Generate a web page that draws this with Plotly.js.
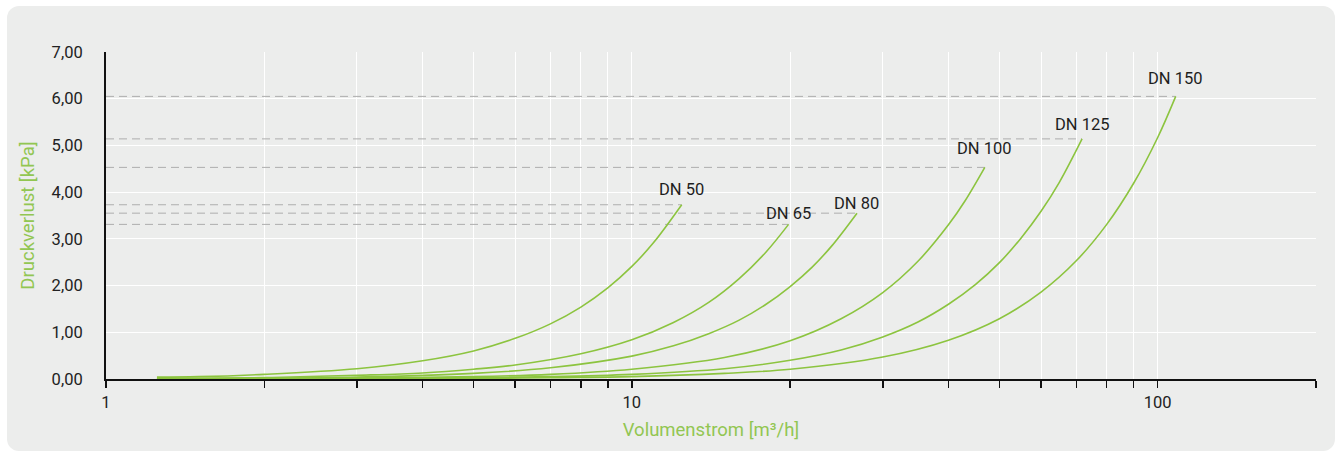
<!DOCTYPE html>
<html>
<head>
<meta charset="utf-8">
<script src="https://cdn.plot.ly/plotly-3.0.1.min.js"></script>
<style>
html,body{margin:0;padding:0;background:#ffffff;}
#panel{position:absolute;left:7px;top:6px;width:1328px;height:445px;background:#ecedec;border-radius:12px;}
#chart{position:absolute;left:0;top:0;width:1338px;height:452px;}
</style>
</head>
<body>
<div id="panel"></div>
<div id="chart"></div>
<script>
// ---- data ----
const seriesNames = ['DN 50', 'DN 65', 'DN 80', 'DN 100', 'DN 125', 'DN 150'];

const qDN50  = [1.25, 1.5, 2, 3, 4, 5, 6, 7, 8, 9, 10, 11, 12.44];
const dpDN50 = [0.04, 0.05, 0.10, 0.22, 0.39, 0.60, 0.87, 1.18, 1.54, 1.95, 2.41, 2.92, 3.73];

const qDN65  = [1.25, 2, 3, 4, 5, 6, 8, 10, 12, 14, 16, 18, 19.86];
const dpDN65 = [0.01, 0.03, 0.08, 0.13, 0.21, 0.30, 0.54, 0.84, 1.21, 1.64, 2.15, 2.72, 3.31];

const qDN80  = [1.25, 2, 3, 5, 7, 10, 12, 14, 16, 18, 20, 22, 24, 26.8];
const dpDN80 = [0.01, 0.02, 0.04, 0.12, 0.24, 0.49, 0.71, 0.97, 1.26, 1.60, 1.98, 2.39, 2.85, 3.55];

const qDN100  = [1.25, 2, 3, 5, 7, 10, 15, 20, 25, 30, 35, 40, 43, 46.9];
const dpDN100 = [0.00, 0.01, 0.02, 0.05, 0.10, 0.21, 0.46, 0.82, 1.29, 1.85, 2.52, 3.30, 3.81, 4.53];

const qDN125  = [1.25, 2, 3, 5, 7, 10, 15, 20, 25, 30, 35, 40, 45, 50, 55, 60, 65, 71.8];
const dpDN125 = [0.00, 0.00, 0.01, 0.03, 0.05, 0.10, 0.22, 0.40, 0.62, 0.90, 1.22, 1.60, 2.02, 2.49, 3.02, 3.59, 4.21, 5.14];

const qDN150  = [1.25, 2, 3, 5, 7, 10, 15, 20, 30, 40, 50, 60, 70, 80, 90, 100, 108.2];
const dpDN150 = [0.00, 0.00, 0.01, 0.01, 0.03, 0.05, 0.12, 0.21, 0.47, 0.83, 1.29, 1.86, 2.53, 3.31, 4.19, 5.17, 6.05];

const xTickVals = [1, 2, 3, 4, 5, 6, 7, 8, 9, 10, 20, 30, 40, 50, 60, 70, 80, 90, 100, 200];
const xTickText = ['1', '', '', '', '', '', '', '', '', '10', '', '', '', '', '', '', '', '', '100', ''];
const yTickVals = [0, 1, 2, 3, 4, 5, 6, 7];

// ---- styling (not data) ----
const lineGreen = '#8cc43f';
const titleGreen = '#92c652';
const labelShift = [4, -1, -2, 7, 3, 6];

const qs = [qDN50, qDN65, qDN80, qDN100, qDN125, qDN150];
const dps = [dpDN50, dpDN65, dpDN80, dpDN100, dpDN125, dpDN150];

const traces = [];
const annotations = [];
seriesNames.forEach((name, i) => {
  const q = qs[i], dp = dps[i];
  const qEnd = q[q.length - 1], dpEnd = dp[dp.length - 1];
  traces.push({
    x: [xTickVals[0], qEnd], y: [dpEnd, dpEnd],
    mode: 'lines', type: 'scatter', hoverinfo: 'skip', showlegend: false,
    line: {color: '#aeaeae', width: 1, dash: '8px,5px'}
  });
});
seriesNames.forEach((name, i) => {
  const q = qs[i], dp = dps[i];
  const qEnd = q[q.length - 1], dpEnd = dp[dp.length - 1];
  traces.push({
    x: q, y: dp, name: name,
    mode: 'lines', type: 'scatter', showlegend: false,
    line: {color: lineGreen, width: 1.6, shape: 'spline', smoothing: 1}
  });
  annotations.push({
    x: Math.log10(qEnd), y: dpEnd, xref: 'x', yref: 'y',
    text: name, showarrow: false, xanchor: 'center', yanchor: 'bottom',
    yshift: labelShift[i],
    font: {family: 'Roboto, sans-serif', size: 16.5, color: '#1e1e1e'}
  });
});

const layout = {
  width: 1338, height: 452,
  margin: {l: 106, r: 22, t: 52, b: 73},
  paper_bgcolor: 'rgba(0,0,0,0)',
  plot_bgcolor: 'rgba(0,0,0,0)',
  separators: ', ',
  font: {family: 'Roboto, sans-serif', size: 16, color: '#222222'},
  showlegend: false,
  xaxis: {
    type: 'log',
    range: [0, Math.log10(200)],
    tickvals: xTickVals, ticktext: xTickText,
    ticks: 'outside', ticklen: 7, tickwidth: 1.5, tickcolor: '#111111',
    showline: true, linecolor: '#111111', linewidth: 2,
    showgrid: true, gridcolor: '#ffffff', gridwidth: 1,
    zeroline: false,
    tickfont: {family: 'Roboto, sans-serif', size: 16.5, color: '#222222'},
    title: {text: 'Volumenstrom [m³/h]', standoff: 12,
            font: {family: 'Roboto, sans-serif', size: 18.5, color: titleGreen}}
  },
  yaxis: {
    range: [0, 7],
    tickvals: yTickVals, tickformat: '.2f',
    ticks: 'outside', ticklen: 18, tickcolor: 'rgba(0,0,0,0)',
    showline: true, linecolor: '#111111', linewidth: 2,
    showgrid: true, gridcolor: '#ffffff', gridwidth: 1,
    zeroline: false,
    tickfont: {family: 'Roboto, sans-serif', size: 16.5, color: '#222222'},
    title: {text: 'Druckverlust [kPa]', standoff: 12,
            font: {family: 'Roboto, sans-serif', size: 18.5, color: titleGreen}}
  },
  annotations: annotations
};

Plotly.newPlot('chart', traces, layout, {displayModeBar: false, staticPlot: true});
</script>
</body>
</html>
